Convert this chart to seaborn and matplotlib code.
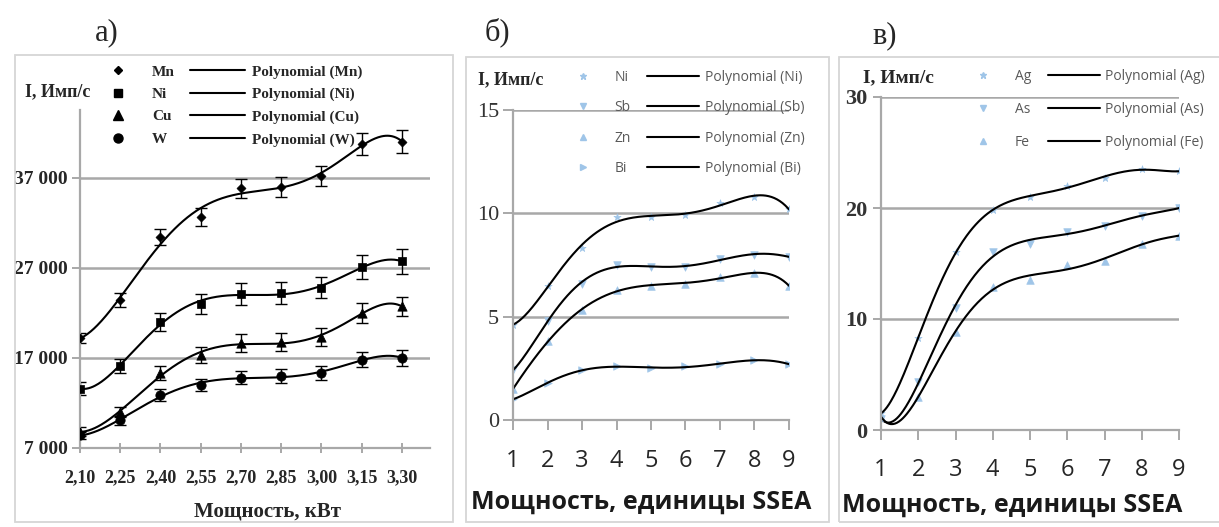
import numpy as np
import pandas as pd
import matplotlib
matplotlib.use("Agg")
import matplotlib.pyplot as plt
import seaborn as sns
from matplotlib.lines import Line2D
from matplotlib.patches import Rectangle

sns.set_theme(style="white")
plt.rcParams['font.family'] = ['Liberation Serif', 'DejaVu Serif']

# ---------------- data ----------------
power_labels_a = ["2,10", "2,25", "2,40", "2,55", "2,70", "2,85", "3,00", "3,15", "3,30"]
elements_a = ["Mn", "Ni", "Cu", "W"]
mn = [19200, 23400, 30400, 32600, 35800, 36000, 37200, 40700, 41000]
ni_a = [13600, 16100, 21000, 23000, 24100, 24200, 24800, 27100, 27700]
cu = [8800, 11000, 15300, 17300, 18600, 18800, 19300, 22000, 22700]
w = [8400, 10100, 12900, 14000, 14800, 15000, 15300, 16800, 17000]
mn_err = [600, 800, 900, 1000, 1100, 1100, 1100, 1200, 1300]
ni_err = [700, 800, 1000, 1100, 1200, 1200, 1200, 1300, 1400]
cu_err = [500, 600, 800, 900, 1000, 1000, 1000, 1100, 1100]
w_err = [400, 500, 650, 700, 750, 750, 800, 800, 850]
yticks_a = [7000, 17000, 27000, 37000]
ytick_labels_a = ["7 000", "17 000", "27 000", "37 000"]

units_b = [1, 2, 3, 4, 5, 6, 7, 8, 9]
elements_b = ["Ni", "Sb", "Zn", "Bi"]
ni_b = [4.6, 6.5, 8.3, 9.8, 9.8, 9.9, 10.5, 10.8, 10.2]
sb_b = [2.4, 4.8, 6.6, 7.5, 7.4, 7.4, 7.8, 8.0, 7.9]
zn_b = [1.5, 3.8, 5.3, 6.3, 6.5, 6.6, 6.9, 7.1, 6.5]
bi_b = [1.0, 1.8, 2.4, 2.6, 2.5, 2.6, 2.7, 2.9, 2.7]
yticks_b = [0, 5, 10, 15]

units_c = [1, 2, 3, 4, 5, 6, 7, 8, 9]
elements_c = ["Ag", "As", "Fe"]
ag_c = [1.5, 8.3, 16.0, 19.8, 21.0, 22.0, 22.7, 23.5, 23.3]
as_c = [1.0, 4.3, 11.0, 16.0, 16.8, 17.8, 18.4, 19.3, 20.0]
fe_c = [1.2, 3.0, 8.8, 12.9, 13.5, 14.9, 15.2, 16.8, 17.5]
yticks_c = [0, 10, 20, 30]

xlabel_a = "Мощность, кВт"
xlabel_bc = "Мощность, единицы SSEA"
ylabel = "I, Имп/с"

W_PX, H_PX = 1219, 527
fig = plt.figure(figsize=(W_PX / 100, H_PX / 100), dpi=100)
fig.patch.set_facecolor("white")

def fx(px):
    return px / W_PX

def fy(py):
    return 1 - py / H_PX

GRID = "#a8a8a8"
BLUE = "#9fc5e8"
SANS = ['Open Sans', 'DejaVu Sans']
SERIF = ['Liberation Serif', 'DejaVu Serif']

def trend(ax, xs, ys, deg=6):
    xs = np.asarray(xs, float)
    coef = np.polyfit(xs, ys, deg)
    xd = np.linspace(xs.min(), xs.max(), 300)
    df = pd.DataFrame({"x": xd, "y": np.polyval(coef, xd)})
    sns.lineplot(data=df, x="x", y="y", color="black", lw=1.5, ax=ax, legend=False)

def style_axes(ax):
    for s in ["top", "right"]:
        ax.spines[s].set_visible(False)
    for s in ["left", "bottom"]:
        ax.spines[s].set_color(GRID)
        ax.spines[s].set_linewidth(1.6)
    ax.yaxis.grid(True, color=GRID, lw=1.8)
    ax.xaxis.grid(False)
    ax.set_facecolor("none")
    ax.set_ylabel("")

def place_xlabel(ax, x_px, y_px, left_px, right_px, bottom_px, top_px):
    ax.xaxis.label.set_va("center")
    ax.xaxis.set_label_coords((x_px - left_px) / (right_px - left_px),
                              -(y_px - bottom_px) / (bottom_px - top_px))

# borders
for (x0, x1, y0, y1) in [(15, 453, 55, 522), (466, 829, 57, 522), (839, 1235, 57, 522)]:
    fig.patches.append(Rectangle((fx(x0), fy(y1)), fx(x1) - fx(x0), fy(y0) - fy(y1),
                                 transform=fig.transFigure, fill=False, ec="#d6d6d6", lw=1.3))

# ---------------- panel a ----------------
axa = fig.add_axes([fx(80), fy(448), fx(430) - fx(80), fy(110) - fy(448)])
xa = np.arange(1, len(power_labels_a) + 1)
markers_a = ["D", "s", "^", "o"]
sizes_a = [22, 40, 45, 45]
series_a = [mn, ni_a, cu, w]
errs_a = [mn_err, ni_err, cu_err, w_err]
for ys, es, m, s in zip(series_a, errs_a, markers_a, sizes_a):
    trend(axa, xa, ys)
    axa.errorbar(xa, ys, yerr=es, fmt="none", ecolor="black", elinewidth=1.0, capsize=4.5, capthick=1.0)
    sns.scatterplot(x=xa, y=ys, marker=m, s=s, color="black", edgecolor="black", ax=axa, zorder=5)
style_axes(axa)
axa.set_xlim(1, 9.7)
axa.set_ylim(7000, 44500)
axa.set_xticks(xa)
axa.set_xticklabels(power_labels_a, fontsize=13, fontweight="bold", family=SERIF)
axa.set_yticks(yticks_a)
axa.set_yticklabels(ytick_labels_a, fontsize=14, fontweight="bold", family=SERIF)
axa.tick_params(axis="y", length=6, width=1.4, color=GRID, pad=3, left=True)
axa.tick_params(axis="x", length=7, width=1.4, color=GRID, pad=12, bottom=True, direction="inout")
axa.set_xlabel(xlabel_a, fontsize=15, fontweight="bold", family=SERIF)
place_xlabel(axa, 267, 512, 80, 430, 448, 110)
fig.text(fx(25), fy(92), ylabel, fontsize=13, fontweight="bold", family=SERIF, va="center", ha="left")
fig.text(fx(107), fy(33), "а)", fontsize=22, family=SERIF, va="center", ha="center")

h_a = [Line2D([], [], ls="none", marker=m, color="black", markersize=ms) for m, ms in zip(markers_a, [4.5, 6, 6.5, 6.5])]
h_a += [Line2D([], [], color="black", lw=1.5) for _ in elements_a]
lab_a = elements_a + [f"Polynomial ({e})" for e in elements_a]
axa.legend(h_a, lab_a, ncol=2, loc="upper left", bbox_to_anchor=(fx(90), fy(65)),
           bbox_transform=fig.transFigure, frameon=False, borderpad=0, borderaxespad=0,
           handlelength=3.6, handletextpad=0.45, labelspacing=0.57, columnspacing=1.0,
           prop={"family": SERIF, "weight": "bold", "size": 11})

# ---------------- panel b ----------------
axb = fig.add_axes([fx(513), fy(420), fx(789) - fx(513), fy(110) - fy(420)])
markers_b = ["*", "v", "^", ">"]
series_b = [ni_b, sb_b, zn_b, bi_b]
for ys, m in zip(series_b, markers_b):
    sns.scatterplot(x=units_b, y=ys, marker=m, s=30, color=BLUE, edgecolor=BLUE, ax=axb, zorder=2)
    trend(axb, units_b, ys)
style_axes(axb)
axb.set_xlim(1, 9)
axb.set_ylim(0, 15)
axb.set_xticks(units_b)
axb.set_xticklabels([str(u) for u in units_b], fontsize=17, family=SANS, color="#262626")
axb.set_yticks(yticks_b)
axb.set_yticklabels([str(t) for t in yticks_b], fontsize=16, family=SERIF, color="#333333")
axb.tick_params(axis="y", length=7, width=1.4, color=GRID, pad=3, left=True)
axb.tick_params(axis="x", length=7, width=1.4, color=GRID, pad=14, bottom=True)
axb.set_xlabel(xlabel_bc, fontsize=18, fontweight="bold", family=SANS, color="#1a1a1a")
place_xlabel(axb, 641, 502, 513, 789, 420, 110)
fig.text(fx(478), fy(80), ylabel, fontsize=13, fontweight="bold", family=SERIF, va="center", ha="left")
fig.text(fx(497), fy(32), "б)", fontsize=22, family=SERIF, va="center", ha="center")

h_b = [Line2D([], [], ls="none", marker=m, color=BLUE, markersize=5) for m in markers_b]
h_b += [Line2D([], [], color="black", lw=1.5) for _ in elements_b]
lab_b = elements_b + [f"Polynomial ({e})" for e in elements_b]
axb.legend(h_b, lab_b, ncol=2, loc="upper left", bbox_to_anchor=(fx(557), fy(70)),
           bbox_transform=fig.transFigure, frameon=False, borderpad=0, borderaxespad=0,
           handlelength=3.75, handletextpad=0.4, labelspacing=1.1, columnspacing=1.15,
           prop={"family": SANS, "size": 10}, labelcolor="#595959")

# ---------------- panel c ----------------
axc = fig.add_axes([fx(881), fy(430), fx(1179) - fx(881), fy(97) - fy(430)])
markers_c = ["*", "v", "^"]
series_c = [ag_c, as_c, fe_c]
for ys, m in zip(series_c, markers_c):
    sns.scatterplot(x=units_c, y=ys, marker=m, s=30, color=BLUE, edgecolor=BLUE, ax=axc, zorder=2)
    trend(axc, units_c, ys)
style_axes(axc)
axc.set_xlim(1, 9)
axc.set_ylim(0, 30)
axc.set_xticks(units_c)
axc.set_xticklabels([str(u) for u in units_c], fontsize=17, family=SANS, color="#262626")
axc.set_yticks(yticks_c)
axc.set_yticklabels([str(t) for t in yticks_c], fontsize=16, fontweight="bold", family=SERIF, color="#333333")
axc.tick_params(axis="y", length=6, width=1.4, color=GRID, pad=4, left=True)
axc.tick_params(axis="x", length=7, width=1.4, color=GRID, pad=13, bottom=True)
axc.set_xlabel(xlabel_bc, fontsize=18, fontweight="bold", family=SANS, color="#1a1a1a")
place_xlabel(axc, 1012, 505, 881, 1179, 430, 97)
fig.text(fx(863), fy(78), ylabel, fontsize=14, fontweight="bold", family=SERIF, va="center", ha="left")
fig.text(fx(885), fy(36), "в)", fontsize=22, family=SERIF, va="center", ha="center")

h_c = [Line2D([], [], ls="none", marker=m, color=BLUE, markersize=5) for m in markers_c]
h_c += [Line2D([], [], color="black", lw=1.5) for _ in elements_c]
lab_c = elements_c + [f"Polynomial ({e})" for e in elements_c]
axc.legend(h_c, lab_c, ncol=2, loc="upper left", bbox_to_anchor=(fx(957), fy(69)),
           bbox_transform=fig.transFigure, frameon=False, borderpad=0, borderaxespad=0,
           handlelength=3.75, handletextpad=0.4, labelspacing=1.3, columnspacing=1.2,
           prop={"family": SANS, "size": 10}, labelcolor="#595959")

fig.savefig("out.png", dpi=100, facecolor="white")
